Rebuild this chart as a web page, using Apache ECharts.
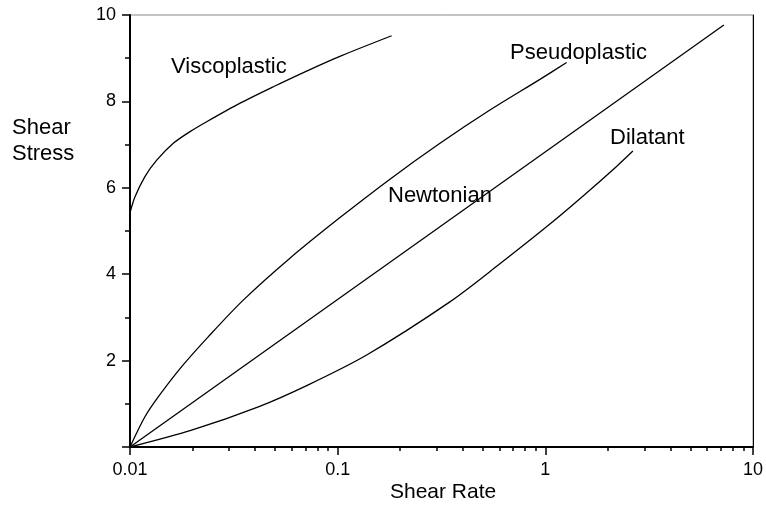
<!DOCTYPE html>
<html>
<head>
    <meta charset="UTF-8">
    <script type="text/javascript" src="https://cdn.jsdelivr.net/npm/echarts@6/dist/echarts.min.js"></script>
    <style type="text/css">
        *{
            margin: 0;
            padding: 0;
        }
        #main{
            width: 766px;
            height: 510px;
        }
    </style>
</head>
<body>
<div id="main"></div>
<script type="text/javascript">

    // curves: [shear rate, shear stress]
    var viscoplastic = [
        [0.01, 5.42], [0.01057, 5.79], [0.0118, 6.26], [0.01345, 6.64], [0.01616, 7.03],
        [0.01945, 7.30], [0.0234, 7.53], [0.0339, 7.96], [0.049, 8.34], [0.0722, 8.72],
        [0.1045, 9.06], [0.182, 9.52]
    ];
    var pseudoplastic = [
        [0.01, 0], [0.0118, 0.70], [0.01368, 1.16], [0.01774, 1.86], [0.0238, 2.55],
        [0.0351, 3.40], [0.0589, 4.37], [0.1026, 5.31], [0.1786, 6.20], [0.311, 7.03],
        [0.541, 7.80], [0.942, 8.51], [1.266, 8.90]
    ];
    var newtonian = [
        [0.01, 0], [7.24, 9.77]
    ];
    var dilatant = [
        [0.01, 0], [0.0198, 0.39], [0.0415, 0.93], [0.0722, 1.44], [0.1379, 2.13],
        [0.347, 3.36], [0.604, 4.24], [1.052, 5.16], [1.52, 5.81],
        [2.21, 6.50], [2.64, 6.85]
    ];

    var xMinorTicks = [0.02, 0.03, 0.04, 0.05, 0.06, 0.07, 0.08, 0.09,
        0.2, 0.3, 0.4, 0.5, 0.6, 0.7, 0.8, 0.9,
        2, 3, 4, 5, 6, 7, 8, 9];

    var font = 'Liberation Sans, Arial, sans-serif';

    var myChart = echarts.init(document.getElementById('main'));
    var curve = function (data) {
        return {
            type: 'line',
            data: data,
            smooth: 0.3,
            symbol: 'none',
            silent: true,
            lineStyle: { color: '#000', width: 1.3 }
        };
    };

    var option = {
        animation: false,
        grid: {
            left: 130, right: 13, top: 15, bottom: 63,
            show: true,
            borderColor: '#888',
            borderWidth: 1
        },
        xAxis: [
            {
                type: 'log',
                logBase: 10,
                min: 0.01,
                max: 10,
                axisLine: { lineStyle: { color: '#000', width: 2 } },
                axisTick: { length: 8, lineStyle: { color: '#000', width: 1.5 } },
                axisLabel: { color: '#000', fontSize: 18, fontFamily: font, margin: 14 },
                splitLine: { show: false }
            },
            {
                type: 'log',
                logBase: 10,
                min: 0.01,
                max: 10,
                position: 'bottom',
                axisLine: { show: false },
                axisTick: { length: 4, customValues: xMinorTicks, lineStyle: { color: '#000', width: 1.5 } },
                axisLabel: { show: false },
                splitLine: { show: false }
            }
        ],
        yAxis: [
            {
                type: 'value',
                min: 0,
                max: 10,
                interval: 2,
                axisLine: { show: true, lineStyle: { color: '#000', width: 2 } },
                axisTick: { show: true, length: 8, lineStyle: { color: '#000', width: 1.5 } },
                minorTick: { show: true, splitNumber: 2, length: 5, lineStyle: { color: '#000', width: 1.5 } },
                axisLabel: {
                    color: '#000', fontSize: 18, fontFamily: font, margin: 14,
                    formatter: function (v) { return v === 0 ? '' : v; }
                },
                splitLine: { show: false }
            },
            {
                type: 'value',
                min: 0,
                max: 10,
                position: 'right',
                axisLine: { show: true, lineStyle: { color: '#000', width: 1 } },
                axisTick: { show: false },
                axisLabel: { show: false },
                splitLine: { show: false }
            }
        ],
        series: [
            curve(viscoplastic),
            curve(pseudoplastic),
            curve(newtonian),
            curve(dilatant)
        ],
        graphic: [
            { type: 'text', left: 171, top: 56, style: { text: 'Viscoplastic', font: '22px ' + font, fill: '#000' } },
            { type: 'text', left: 510, top: 42, style: { text: 'Pseudoplastic', font: '22px ' + font, fill: '#000' } },
            { type: 'text', left: 388, top: 185, style: { text: 'Newtonian', font: '22px ' + font, fill: '#000' } },
            { type: 'text', left: 610, top: 127, style: { text: 'Dilatant', font: '22px ' + font, fill: '#000' } },
            { type: 'text', left: 12, top: 115, style: { text: 'Shear\nStress', font: '22px ' + font, lineHeight: 26, fill: '#000' } },
            { type: 'text', left: 390, top: 482, style: { text: 'Shear Rate', font: '21px ' + font, fill: '#000' } }
        ]
    };
    myChart.setOption(option);

</script>
</body>
</html>
